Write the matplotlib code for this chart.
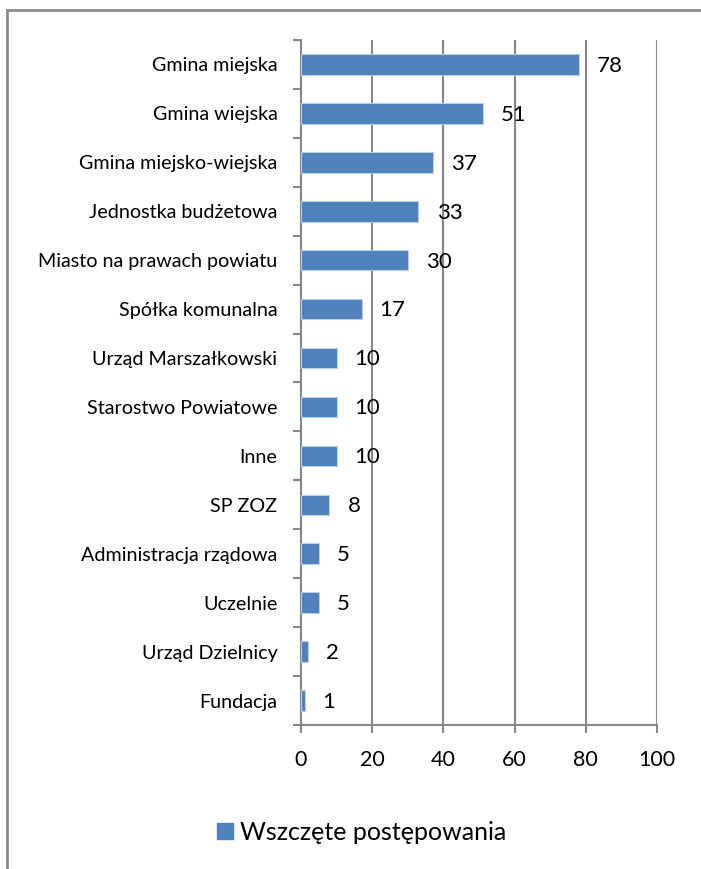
import matplotlib.pyplot as plt
import numpy as np
from matplotlib.lines import Line2D

# data
categories = ["Gmina miejska", "Gmina wiejska", "Gmina miejsko-wiejska",
              "Jednostka budżetowa", "Miasto na prawach powiatu",
              "Spółka komunalna", "Urząd Marszałkowski", "Starostwo Powiatowe",
              "Inne", "SP ZOZ", "Administracja rządowa", "Uczelnie",
              "Urząd Dzielnicy", "Fundacja"]
values = [78, 51, 37, 33, 30, 17, 10, 10, 10, 8, 5, 5, 2, 1]
xticks = [0, 20, 40, 60, 80, 100]
series_name = "Wszczęte postępowania"

plt.rcParams['font.family'] = ['Lato', 'DejaVu Sans']

bar_col = "#4F81BD"
grid_col = "#878787"

fig = plt.figure(figsize=(7.01, 8.69), dpi=100)
ax = fig.add_axes([0.4294, 0.1657, 0.5078, 0.7883])

n = len(categories)
ypos = np.arange(n)
ax.barh(ypos, values, height=0.42, color=bar_col, edgecolor="#B9CDE5",
        linewidth=0.8, zorder=3)

ax.set_xlim(0, 100)
ax.set_ylim(n - 0.5, -0.5)

# gridlines
for t in xticks[1:]:
    ax.axvline(t, color=grid_col, lw=1.5, zorder=1)

ax.set_xticks(xticks)
ax.set_xticklabels([str(t) for t in xticks], fontsize=15.5)
ax.tick_params(axis='x', length=6, width=1.5, color=grid_col, pad=12)

# category labels centred, ticks on band boundaries
ax.set_yticks(ypos)
ax.set_yticklabels(categories, fontsize=14.2)
ax.tick_params(axis='y', length=0, pad=17)
ax.set_yticks(np.arange(n + 1) - 0.5, minor=True)
ax.tick_params(axis='y', which='minor', length=6, width=1.5, color=grid_col)

for s in ['top', 'right']:
    ax.spines[s].set_visible(False)
for s in ['left', 'bottom']:
    ax.spines[s].set_color(grid_col)
    ax.spines[s].set_linewidth(1.5)

for y, v in zip(ypos, values):
    ax.annotate(str(v), (v, y), xytext=(13, -1), textcoords='offset points',
                va='center', ha='left', fontsize=16, zorder=4)

handle = Line2D([], [], marker='s', color='none', markerfacecolor=bar_col,
                markeredgecolor=bar_col, markersize=11)
fig.legend([handle], [series_name], loc='center', bbox_to_anchor=(0.513, 0.042),
           frameon=False, fontsize=18, handletextpad=0.1, handlelength=1.0)

# outer chart frame (top and left edges visible in the reference)
fig.add_artist(Line2D([7 / 701, 7 / 701], [0, 1 - 10 / 869], transform=fig.transFigure,
                      color="#8C8C8C", lw=2))
fig.add_artist(Line2D([7 / 701, 1], [1 - 10 / 869, 1 - 10 / 869], transform=fig.transFigure,
                      color="#8C8C8C", lw=2))

fig.savefig("out.png", dpi=100)
